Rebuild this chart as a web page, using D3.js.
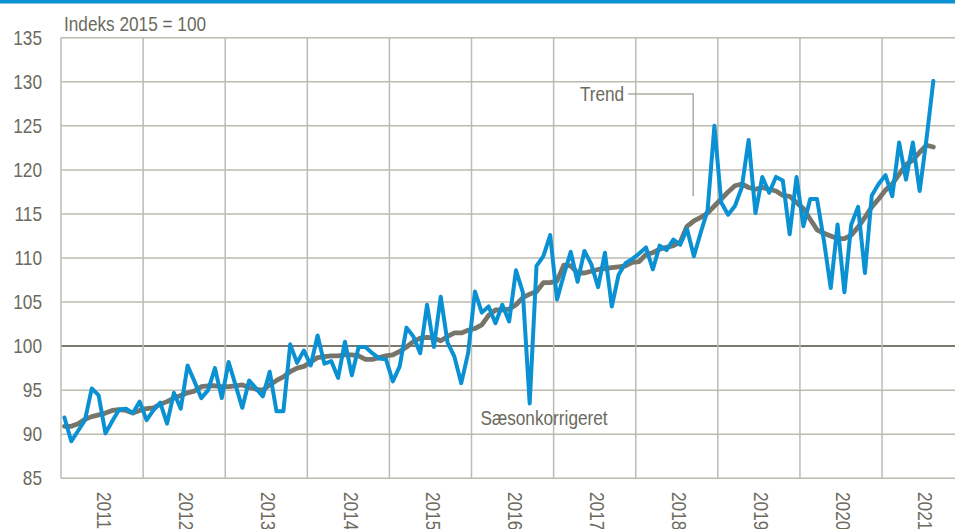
<!DOCTYPE html>
<html>
<head>
<meta charset="utf-8">
<script src="https://cdn.jsdelivr.net/npm/d3@7"></script>
<style>
  html, body { margin: 0; padding: 0; background: #fff; }
  svg { display: block; }
  text { font-family: "Liberation Sans", Arial, sans-serif; fill: #6b6a5d; font-size: 21px; }
</style>
</head>
<body>
<div id="chart"></div>
<script>
// monthly index, Jan 2011 - Aug 2021 (2015 = 100)
var years = ["2011", "2012", "2013", "2014", "2015", "2016", "2017", "2018", "2019", "2020", "2021"];
var yTicks = [85, 90, 95, 100, 105, 110, 115, 120, 125, 130, 135];

var seasonal = [
  91.9, 89.2, 90.4, 91.6, 95.2, 94.4, 90.1, 91.5, 92.8, 92.9, 92.4, 93.7,
  91.6, 92.7, 93.6, 91.2, 94.7, 92.9, 97.8, 96.0, 94.1, 95.0, 97.5, 94.1,
  98.2, 95.6, 93.0, 96.1, 95.2, 94.3, 97.1, 92.6, 92.6, 100.2, 98.1, 99.5,
  97.8, 101.2, 98.0, 98.3, 96.4, 100.5, 96.7, 99.9, 99.9, 99.2, 98.6, 98.5,
  96.0, 97.7, 102.1, 101.1, 99.2, 104.7, 99.9, 105.6, 100.4, 98.8, 95.8, 99.2,
  106.2, 103.8, 104.5, 102.6, 104.7, 102.8, 108.6, 106.1, 93.5, 109.1, 110.2, 112.6,
  105.3, 108.1, 110.7, 107.3, 110.8, 109.3, 106.7, 110.6, 104.5, 108.1, 109.4, 109.9,
  110.5, 111.2, 108.7, 111.4, 110.9, 112.1, 111.5, 113.3, 110.2, 112.9, 115.4, 125.0,
  116.3, 114.9, 115.9, 118.0, 123.4, 115.1, 119.2, 117.4, 119.2, 118.8, 112.7, 119.2,
  113.6, 116.7, 116.7, 112.0, 106.6, 113.8, 106.1, 113.8, 115.8, 108.3, 117.1, 118.4,
  119.4, 117.0, 123.1, 118.9, 123.1, 117.6, 123.5, 130.1
];

var trend = [
  90.9, 90.9, 91.2, 91.7, 92.0, 92.2, 92.4, 92.7, 92.8, 92.7, 92.4, 92.7,
  92.9, 93.0, 93.4, 93.7, 94.1, 94.4, 94.7, 94.9, 95.4, 95.5, 95.5, 95.4,
  95.4, 95.5, 95.6, 95.3, 95.1, 95.0, 95.6, 96.1, 96.5, 97.1, 97.5, 97.7,
  98.2, 98.7, 98.8, 98.9, 98.9, 99.0, 99.0, 98.9, 98.5, 98.5, 98.7, 98.9,
  99.0, 99.4, 99.9, 100.5, 100.9, 101.0, 100.9, 100.6, 101.1, 101.5, 101.5, 101.8,
  102.0, 102.4, 103.5, 104.1, 104.1, 104.2, 104.7, 105.5, 105.9, 106.2, 107.2, 107.2,
  107.4, 109.2, 109.1, 108.3, 108.3, 108.5, 108.7, 108.8, 108.9, 109.0, 109.1, 109.5,
  109.6, 110.4, 110.6, 111.0, 111.2, 111.4, 111.8, 113.6, 114.2, 114.6, 115.1, 115.9,
  116.7, 117.5, 118.2, 118.4, 118.0, 117.8, 118.0, 117.8, 117.6, 117.1, 117.0, 116.3,
  115.6, 114.4, 113.2, 112.8, 112.5, 112.2, 112.2, 112.6, 113.5, 114.6, 115.8, 116.7,
  117.7, 118.4, 119.5, 120.6, 121.1, 122.0, 122.8, 122.6
];

var width = 955, height = 529;
var plotLeft = 61, plotTop = 37.7, plotBottom = 478.3;
var monthsShown = 132; // 2011-2021, the last year runs off the right edge
var narrow = 0.82;     // squeeze the sans face to look like the narrow one in the original

var svg = d3.select("#chart").append("svg")
  .attr("width", width)
  .attr("height", height);

var x = d3.scaleLinear().domain([0, monthsShown]).range([plotLeft, plotLeft + monthsShown * 6.842]);
var y = d3.scaleLinear().domain([85, 135]).range([plotBottom, plotTop]);

// places a squeezed text at (px, py)
function label(g, px, py, extra) {
  return g.append("text")
    .attr("transform", "translate(" + px + "," + py + ")" + (extra || "") + " scale(" + narrow + ",1)");
}

// blue rule at the very top
svg.append("rect")
  .attr("x", 0).attr("y", 0)
  .attr("width", width).attr("height", 3.5)
  .style("fill", "#0a91d3");

// horizontal grid
svg.append("g").selectAll("line")
  .data(yTicks)
  .enter().append("line")
  .attr("x1", plotLeft).attr("x2", width)
  .attr("y1", function(d) { return y(d); })
  .attr("y2", function(d) { return y(d); })
  .style("stroke", function(d) { return d == 100 ? "#7b796d" : "#bdbbb0"; })
  .style("stroke-width", function(d) { return d == 100 ? 2 : 1.5; });

// vertical grid at year boundaries
svg.append("g").selectAll("line")
  .data(d3.range(years.length + 1))
  .enter().append("line")
  .attr("x1", function(d) { return x(d * 12); })
  .attr("x2", function(d) { return x(d * 12); })
  .attr("y1", plotTop).attr("y2", plotBottom)
  .style("stroke", "#bdbbb0")
  .style("stroke-width", 1.5);

// y tick labels
var yg = svg.append("g");
yTicks.forEach(function(d) {
  label(yg, 42, y(d))
    .attr("dy", "0.33em")
    .attr("text-anchor", "end")
    .text(d);
});

// year labels, rotated
var xg = svg.append("g");
years.forEach(function(d, i) {
  label(xg, x(i * 12 + 6) - 4.8, 492, " rotate(90)")
    .text(d);
});

label(svg, 64, 30.5).text("Indeks 2015 = 100");

var line = d3.line()
  .x(function(d, i) { return x(i + 0.5); })
  .y(function(d) { return y(d); });

svg.append("path")
  .datum(trend)
  .attr("d", line)
  .style("fill", "none")
  .style("stroke", "#77756a")
  .style("stroke-width", 4.8)
  .style("stroke-linejoin", "round")
  .style("stroke-linecap", "round");

svg.append("path")
  .datum(seasonal)
  .attr("d", line)
  .style("fill", "none")
  .style("stroke", "#0a91d3")
  .style("stroke-width", 4)
  .style("stroke-linejoin", "round")
  .style("stroke-linecap", "round");

// annotations
var leadX = x(92.4);
svg.append("polyline")
  .attr("points", [[leadX - 65, y(128.6)], [leadX, y(128.6)], [leadX, y(117)]].join(" "))
  .style("fill", "none")
  .style("stroke", "#aeaca0")
  .style("stroke-width", 1.5);

label(svg, leadX - 69, y(128.6))
  .attr("dy", "0.35em")
  .attr("text-anchor", "end")
  .text("Trend");

label(svg, x(61.3), y(91)).text("Sæsonkorrigeret");
</script>
</body>
</html>
